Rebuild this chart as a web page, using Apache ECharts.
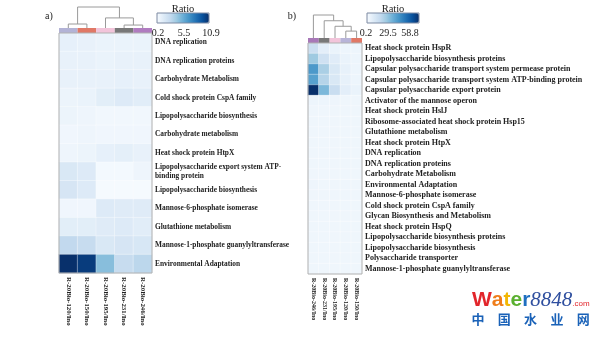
<!DOCTYPE html>
<html><head><meta charset="utf-8">
<script src="https://cdn.jsdelivr.net/npm/echarts@6/dist/echarts.min.js"></script>
<style>html,body{margin:0;padding:0;background:#fff}#c{width:600px;height:338px}</style>
</head><body><div id="c"></div>
<script>
// ---------- Panel a ----------
const colsA = ['R-20Bio-120/Ino','R-20Bio-150/Ino','R-20Bio-195/Ino','R-20Bio-231/Ino','R-20Bio-246/Ino'];
const stripA = ['#b3b3d6','#e07866','#f2c4da','#787878','#b07cc0'];
const rowsA = ['DNA replication','DNA replication proteins','Carbohydrate Metabolism','Cold shock protein CspA family',
  'Lipopolysaccharide biosynthesis','Carbohydrate metabolism','Heat shock protein HtpX',
  'Lipopolysaccharide export system ATP-\nbinding protein','Lipopolysaccharide biosynthesis ',
  'Mannose-6-phosphate isomerase','Glutathione metabolism','Mannose-1-phosphate guanylyltransferase','Environmental Adaptation'];
const valuesA = [
  [1.1,1.0,0.9,0.9,0.9],
  [1.0,1.0,0.9,1.0,1.0],
  [1.0,1.0,1.0,1.1,1.0],
  [0.8,0.9,1.3,1.6,1.4],
  [0.8,0.7,0.5,0.5,0.5],
  [0.6,0.7,0.6,0.6,0.6],
  [0.7,0.8,1.1,1.2,1.0],
  [1.8,1.6,0.4,0.4,0.7],
  [2.0,1.6,0.3,0.3,0.3],
  [0.6,0.6,1.6,1.5,1.5],
  [1.3,1.3,1.5,1.6,1.4],
  [3.0,2.8,1.8,2.0,1.9],
  [10.9,10.4,4.8,2.8,3.2]
];
const mergeA = [[-4,-5],[-1,-2],[-3,1],[2,3]];
const heightA = [0.14,0.19,0.48,1.0];
const rangeA = [0.2,10.9];
const ticksA = ['0.2','5.5','10.9'];

// ---------- Panel b ----------
const colsB = ['R-20Bio-246/Ino','R-20Bio-231/Ino','R-20Bio-195/Ino','R-20Bio-120/Ino','R-20Bio-150/Ino'];
const stripB = ['#a878b8','#787878','#f2c4da','#b8b4d8','#e07866'];
const rowsB = ['Heat shock protein HspR','Lipopolysaccharide biosynthesis proteins',
  'Capsular polysaccharide transport system permease protein','Capsular polysaccharide transport system ATP-binding protein',
  'Capsular polysaccharide export protein','Activator of the mannose operon','Heat shock protein HslJ',
  'Ribosome-associated heat shock protein Hsp15','Glutathione metabolism','Heat shock protein HtpX','DNA replication',
  'DNA replication proteins','Carbohydrate Metabolism','Environmental Adaptation','Mannose-6-phosphate isomerase',
  'Cold shock protein CspA family','Glycan Biosynthesis and Metabolism','Heat shock protein HspQ',
  'Lipopolysaccharide biosynthesis proteins ','Lipopolysaccharide biosynthesis','Polysaccharide transporter',
  'Mannose-1-phosphate guanylyltransferase'];
const valuesB = [
  [13,6,4,3,3],
  [22,12,7,4,3],
  [35,20,9,5,3],
  [33,18,9,5,3],
  [58.8,27,14,6,4],
  [3,3,2.8,2.5,2.5],
  [2.5,2.5,2.5,2.5,2.5],
  [2.5,2.5,2.5,2.5,2.5],
  [2.6,2.6,2.5,2.5,2.5],
  [2.6,2.6,2.5,2.5,2.5],
  [2.5,2.5,2.5,2.5,2.5],
  [2.5,2.5,2.5,2.5,2.5],
  [2.5,2.5,2.5,2.5,2.5],
  [2.8,2.6,2.5,2.5,2.5],
  [2.5,2.5,2.5,2.5,2.5],
  [2.5,2.5,2.5,2.5,2.5],
  [2.5,2.5,2.5,2.5,2.5],
  [2.5,2.5,2.5,2.5,2.5],
  [2.5,2.5,2.5,2.5,2.5],
  [2.5,2.5,2.5,2.5,2.5],
  [2.5,2.5,2.5,2.5,2.5],
  [2.5,2.5,2.5,2.5,2.5]
];
const mergeB = [[-4,-5],[-3,1],[-2,2],[-1,3]];
const heightB = [0.30,0.51,0.75,1.0];
const rangeB = [0.2,58.8];
const ticksB = ['0.2','29.5','58.8'];

const blues = ['#f7fbff','#deebf7','#c6dbef','#9ecae1','#6baed6','#4292c6','#2171b5','#08519c','#08306b'];
const SERIF = "'Liberation Serif','Times New Roman',serif";

function heatData(vals){ const d=[]; vals.forEach((r,i)=>r.forEach((v,j)=>d.push([j,i,v]))); return d; }
function dendro(merge, height){
  const pos=[], hts=[], out=[];
  merge.forEach((m,i)=>{
    const get = k => k<0 ? [-k-1,0] : [pos[k-1],hts[k-1]];
    const [xa,ha]=get(m[0]), [xb,hb]=get(m[1]);
    pos.push((xa+xb)/2); hts.push(height[i]);
    out.push([xa,xb,height[i],ha,hb]);
  });
  return out;
}
function dendroRender(params, api){
  const xl=api.value(0), xr=api.value(1), h=api.value(2), hl=api.value(3), hr=api.value(4);
  return {type:'polyline', shape:{points:[api.coord([xl,hl]),api.coord([xl,h]),api.coord([xr,h]),api.coord([xr,hr])]},
    style:{stroke:'#9a9a9a', lineWidth:1, fill:null}};
}

const chart = echarts.init(document.getElementById('c'), null, {renderer:'canvas'});
const grids = [
  {left:59, top:33, width:93, height:240, show:true, borderColor:'#b0b0b0', borderWidth:1, backgroundColor:'transparent', z:5},
  {left:59, top:28, width:93, height:5},
  {left:59, top:7, width:93, height:21},
  {left:308, top:43, width:54, height:231, show:true, borderColor:'#b0b0b0', borderWidth:1, backgroundColor:'transparent', z:5},
  {left:308, top:38, width:54, height:5},
  {left:308, top:15, width:54, height:23}
];
function catX(grid, cats, show, fs){
  return {type:'category', gridIndex:grid, data:cats, show:show, axisLine:{show:false}, axisTick:{show:false},
    axisLabel:{rotate:-90, fontSize:fs, fontWeight:'bold', fontFamily:SERIF, color:'#222', margin:4}, splitLine:{show:false}};
}
function catY(grid, cats, fs, lh){
  return {type:'category', gridIndex:grid, data:cats, inverse:true, position:'right', axisLine:{show:false}, axisTick:{show:false},
    axisLabel:{fontSize:fs, lineHeight:lh, fontWeight:'bold', fontFamily:SERIF, color:'#222', margin:3}, splitLine:{show:false}};
}
const hid = (g, t, mn, mx) => ({type:t, gridIndex:g, min:mn, max:mx, show:false});

const option = {
  animation:false,
  grid: grids,
  xAxis: [catX(0,colsA,true,6.9), {type:'category',gridIndex:1,data:colsA,show:false}, hid(2,'value',-0.5,4.5),
          catX(3,colsB,true,6), {type:'category',gridIndex:4,data:colsB,show:false}, hid(5,'value',-0.5,4.5)],
  yAxis: [catY(0,rowsA,7.4,8.5), hid(1,'value',0,1), hid(2,'value',0,1),
          catY(3,rowsB,8,9), hid(4,'value',0,1), hid(5,'value',0,1)],
  visualMap: [
    {type:'continuous', seriesIndex:0, min:rangeA[0], max:rangeA[1], orient:'horizontal', left:157, top:13,
     itemWidth:10, itemHeight:52, padding:0, calculable:false, hoverLink:false, inRange:{color:blues}, textStyle:{fontSize:0}},
    {type:'continuous', seriesIndex:3, min:rangeB[0], max:rangeB[1], orient:'horizontal', left:367, top:13,
     itemWidth:10, itemHeight:52, padding:0, calculable:false, hoverLink:false, inRange:{color:blues}, textStyle:{fontSize:0}}
  ],
  series: [
    {type:'heatmap', xAxisIndex:0, yAxisIndex:0, data:heatData(valuesA), itemStyle:{borderColor:'rgba(255,255,255,0.7)', borderWidth:0.5}, emphasis:{disabled:true}},
    {type:'bar', xAxisIndex:1, yAxisIndex:1, barWidth:'100%', data:stripA.map(c=>({value:1,itemStyle:{color:c}})), silent:true},
    {type:'custom', xAxisIndex:2, yAxisIndex:2, data:dendro(mergeA,heightA), renderItem:dendroRender, silent:true},
    {type:'heatmap', xAxisIndex:3, yAxisIndex:3, data:heatData(valuesB), itemStyle:{borderColor:'rgba(255,255,255,0.7)', borderWidth:0.5}, emphasis:{disabled:true}},
    {type:'bar', xAxisIndex:4, yAxisIndex:4, barWidth:'100%', data:stripB.map(c=>({value:1,itemStyle:{color:c}})), silent:true},
    {type:'custom', xAxisIndex:5, yAxisIndex:5, data:dendro(mergeB,heightB), renderItem:dendroRender, silent:true}
  ],
  graphic: []
};

const g = option.graphic;
const txt = (x,y,t,fs,extra) => g.push({type:'text', x:x, y:y, z:100, style:Object.assign({text:t, fontSize:fs, fontFamily:SERIF, fill:'#222', align:'center', verticalAlign:'middle'}, extra||{})});
txt(49,16,'a)',10); txt(292,16,'b)',10);
txt(183,9,'Ratio',10.5); txt(393,9,'Ratio',10.5);
g.push({type:'rect', z:100, shape:{x:157,y:13,width:52,height:10}, style:{fill:null, stroke:'#7d8aa3', lineWidth:1}});
g.push({type:'rect', z:100, shape:{x:367,y:13,width:52,height:10}, style:{fill:null, stroke:'#7d8aa3', lineWidth:1}});
[158,184,211].forEach((x,i)=>txt(x,33,ticksA[i],10));
[366,388,410].forEach((x,i)=>txt(x,33,ticksB[i],10));
// watermark
g.push({type:'text', x:472, y:300, z:100, style:{text:'{w|W}{a|a}{t|t}{e|e}{r|r}{n|8848}{c|.com}', verticalAlign:'middle',
  rich:{w:{fill:'#e2252b',fontSize:21,fontWeight:'bold',fontFamily:'Arial, Liberation Sans'},
        a:{fill:'#ef7d1a',fontSize:21,fontWeight:'bold',fontFamily:'Arial, Liberation Sans'},
        t:{fill:'#f2b705',fontSize:21,fontWeight:'bold',fontFamily:'Arial, Liberation Sans'},
        e:{fill:'#5bb030',fontSize:21,fontWeight:'bold',fontFamily:'Arial, Liberation Sans'},
        r:{fill:'#1f6fc0',fontSize:21,fontWeight:'bold',fontFamily:'Arial, Liberation Sans'},
        n:{fill:'#2f4f9f',fontSize:21,fontStyle:'italic',fontFamily:SERIF},
        c:{fill:'#e2252b',fontSize:8,fontFamily:'Arial, Liberation Sans', padding:[8,0,0,0]}}}});
['中','国','水','业','网'].forEach((ch,i)=>g.push({type:'text', x:478+i*26.3, y:319, z:100,
  style:{text:ch, fontSize:13, fontWeight:'bold', fontFamily:"'Noto Sans CJK SC'", fill:'#1a62b8', align:'center', verticalAlign:'middle'}}));

chart.setOption(option);
</script></body></html>
